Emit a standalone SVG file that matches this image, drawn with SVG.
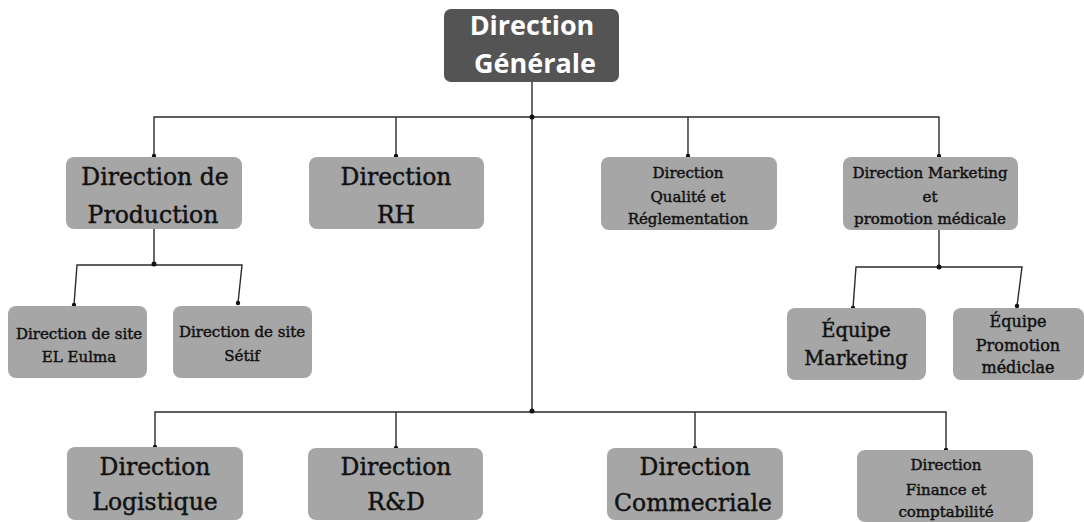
<svg xmlns="http://www.w3.org/2000/svg" width="1084" height="522" viewBox="0 0 1084 522">
<style>
.box{fill:#a6a6a6;}
.top{fill:#545454;}
.t{font-family:"DejaVu Serif","Liberation Serif",serif;fill:#111;stroke:#111;stroke-width:0.45;text-anchor:middle;}
.big{font-size:23.5px;}
.mid{font-size:19.5px;}
.sm{font-size:15px;}
.tw{font-family:"Open Sans","Liberation Sans",sans-serif;font-weight:bold;font-size:27px;fill:#fff;text-anchor:middle;}
.ln{stroke:#2a2a2a;stroke-width:1.4;fill:none;}
.dot{fill:#111;}
</style>
<rect width="1084" height="522" fill="#fff"/>
<g id="connectors">
<path class="ln" d="M532 82V411"/>
<path class="ln" d="M154 154V117H939V156"/>
<path class="ln" d="M396 117V155"/>
<path class="ln" d="M688 117V156"/>
<path class="ln" d="M154 229V264"/>
<path class="ln" d="M74 305L77 265H242L238 303"/>
<path class="ln" d="M939 230V267"/>
<path class="ln" d="M853 308L856 267H1022L1017 306"/>
<path class="ln" d="M155 447V412H946V450"/>
<path class="ln" d="M396 412V448"/>
<path class="ln" d="M695 412V448"/>
<circle class="dot" cx="532" cy="117" r="2.5"/>
<circle class="dot" cx="532" cy="411" r="2.5"/>
<circle class="dot" cx="154" cy="156" r="2.2"/>
<circle class="dot" cx="396" cy="156" r="2.2"/>
<circle class="dot" cx="688" cy="156" r="2.2"/>
<circle class="dot" cx="939" cy="156" r="2.2"/>
<circle class="dot" cx="154" cy="264" r="2.5"/>
<circle class="dot" cx="74" cy="305" r="2.2"/>
<circle class="dot" cx="238" cy="303" r="2.2"/>
<circle class="dot" cx="939" cy="267" r="2.5"/>
<circle class="dot" cx="853" cy="308" r="2.2"/>
<circle class="dot" cx="1017" cy="306" r="2.2"/>
<circle class="dot" cx="155" cy="447" r="2.2"/>
<circle class="dot" cx="396" cy="448" r="2.2"/>
<circle class="dot" cx="695" cy="448" r="2.2"/>
<circle class="dot" cx="946" cy="450" r="2.2"/>
</g>
<g id="dg">
<rect class="top" x="444" y="9" width="175" height="73" rx="7"/>
<text class="tw" x="532" y="35">Direction</text>
<text class="tw" x="535" y="73">Générale</text>
</g>
<g id="production">
<rect class="box" x="66" y="157" width="176" height="72" rx="8"/>
<text class="t big" x="155" y="185">Direction de</text>
<text class="t big" x="153" y="223">Production</text>
</g>
<g id="rh">
<rect class="box" x="309" y="157" width="175" height="72" rx="8"/>
<text class="t big" x="396" y="185">Direction</text>
<text class="t big" x="396" y="223">RH</text>
</g>
<g id="qualite">
<rect class="box" x="601" y="157" width="176" height="73" rx="8"/>
<text class="t sm" x="688" y="178">Direction</text>
<text class="t sm" x="688" y="202">Qualité et</text>
<text class="t sm" x="688" y="224">Réglementation</text>
</g>
<g id="marketing">
<rect class="box" x="843" y="157" width="175" height="73" rx="8"/>
<text class="t sm" x="930" y="178">Direction Marketing</text>
<text class="t sm" x="930" y="202">et</text>
<text class="t sm" x="930" y="224">promotion médicale</text>
</g>
<g id="eulma">
<rect class="box" x="8" y="306" width="139" height="72" rx="8"/>
<text class="t sm" x="79" y="339">Direction de site</text>
<text class="t sm" x="79" y="362">EL Eulma</text>
</g>
<g id="setif">
<rect class="box" x="173" y="306" width="139" height="72" rx="8"/>
<text class="t sm" x="242" y="337">Direction de site</text>
<text class="t sm" x="242" y="361">Sétif</text>
</g>
<g id="equipe-marketing">
<rect class="box" x="787" y="308" width="139" height="72" rx="8"/>
<text class="t mid" x="856" y="337">Équipe</text>
<text class="t mid" x="856" y="365">Marketing</text>
</g>
<g id="equipe-promotion">
<rect class="box" x="953" y="308" width="131" height="72" rx="8"/>
<text class="t" style="font-size:16px" x="1018" y="327">Équipe</text>
<text class="t" style="font-size:16px" x="1018" y="351">Promotion</text>
<text class="t" style="font-size:16px" x="1018" y="373">médiclae</text>
</g>
<g id="logistique">
<rect class="box" x="67" y="447" width="176" height="73" rx="8"/>
<text class="t big" x="155" y="475">Direction</text>
<text class="t big" x="155" y="510">Logistique</text>
</g>
<g id="rd">
<rect class="box" x="308" y="448" width="175" height="72" rx="8"/>
<text class="t big" x="396" y="475">Direction</text>
<text class="t big" x="396" y="510">R&amp;D</text>
</g>
<g id="commerciale">
<rect class="box" x="607" y="448" width="176" height="72" rx="8"/>
<text class="t big" x="695" y="475">Direction</text>
<text class="t big" x="693" y="511">Commecriale</text>
</g>
<g id="finance">
<rect class="box" x="857" y="450" width="176" height="72" rx="8"/>
<text class="t sm" x="946" y="470">Direction</text>
<text class="t sm" x="946" y="495">Finance et</text>
<text class="t sm" x="946" y="517">comptabilité</text>
</g>
</svg>
